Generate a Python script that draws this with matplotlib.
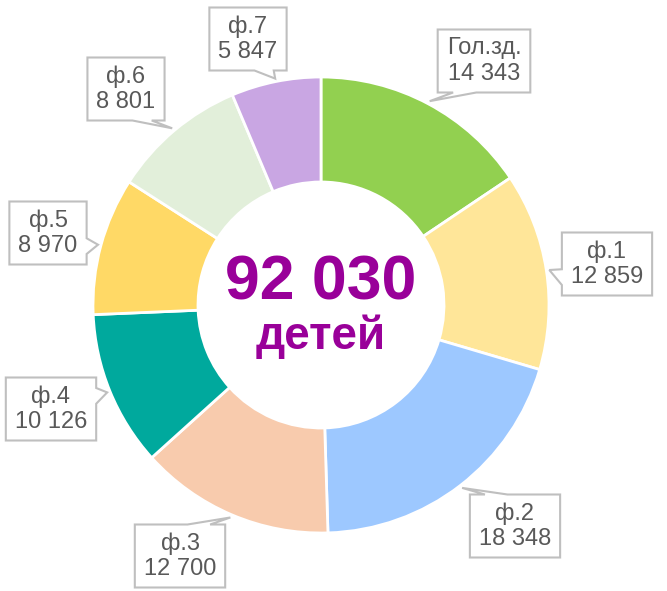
import numpy as np
import matplotlib
matplotlib.use("Agg")
from matplotlib import pyplot as plt
from matplotlib.patches import Polygon

plt.rcParams['font.family'] = ['Liberation Sans', 'DejaVu Sans']

# data
names = ['Гол.зд.', 'ф.1', 'ф.2', 'ф.3', 'ф.4', 'ф.5', 'ф.6', 'ф.7']
values = [14343, 12859, 18348, 12700, 10126, 8970, 8801, 5847]
colors = ['#92D050', '#FFE699', '#9DC8FF', '#F8CBAD', '#00A99D', '#FFD966', '#E2EFDA', '#C9A6E3']
total_text = '92 030'
sub_text = 'детей'

W, H = 667, 591
# label box centres in pixels from the top-left corner (layout only)
box_pos = [(484, 61), (607, 264), (515, 526), (180, 556),
           (51, 409), (48, 233), (126, 89), (248, 39)]

fig = plt.figure(figsize=(W / 100, H / 100), dpi=100)
ax = fig.add_axes([0, 0, 1, 1])

cx, cy = 321, 286
R = 228
wedges, _ = ax.pie(values, colors=colors, startangle=90, counterclock=False,
                   radius=R, center=(cx, cy),
                   wedgeprops=dict(width=105, edgecolor='white', linewidth=2))
ax.set_xlim(0, W)
ax.set_ylim(0, H)
ax.set_aspect('equal')
ax.axis('off')

ax.text(cx, H - 283, total_text, ha='center', va='center', fontsize=45,
        fontweight='bold', color='#990099')
ax.text(cx, H - 337, sub_text, ha='center', va='center', fontsize=33,
        fontweight='bold', color='#990099')

labels = []
for w, n, v, (px, py) in zip(wedges, names, values, box_pos):
    a = np.deg2rad((w.theta1 + w.theta2) / 2)
    tip = (cx + (R + 3) * np.cos(a), cy + (R + 3) * np.sin(a))
    s = f"{n}\n{v:,}".replace(',', ' ')
    t = ax.text(px, H - py, s, ha='center', va='center', fontsize=17,
                color='#595959', zorder=5, linespacing=1.2)
    labels.append((t, px, H - py, tip))

fig.canvas.draw()
inv = ax.transData.inverted()
for t, mx, my, (tx, ty) in labels:
    bb = t.get_window_extent()
    (l, b), (r, tp) = inv.transform([[bb.x0, bb.y0], [bb.x1, bb.y1]])
    w = (r - l) + 18
    h = 63
    l, r = mx - w / 2, mx + w / 2
    b, tp = my - h / 2, my + h / 2
    dx, dy = tx - mx, ty - my
    pts = [(l, tp)]
    side_lr = abs(dx) / w > abs(dy) / h
    if not side_lr and dy > 0:
        xa, xb = (l + 2 * w / 12, l + 5 * w / 12) if dx < 0 else (l + 7 * w / 12, l + 10 * w / 12)
        pts += [(xa, tp), (tx, ty), (xb, tp)]
    pts.append((r, tp))
    if side_lr and dx > 0:
        ya, yb = (tp - 2 * h / 12, tp - 5 * h / 12) if dy > 0 else (tp - 7 * h / 12, tp - 10 * h / 12)
        pts += [(r, ya), (tx, ty), (r, yb)]
    pts.append((r, b))
    if not side_lr and dy <= 0:
        xa, xb = (l + 5 * w / 12, l + 2 * w / 12) if dx < 0 else (l + 10 * w / 12, l + 7 * w / 12)
        pts += [(xa, b), (tx, ty), (xb, b)]
    pts.append((l, b))
    if side_lr and dx <= 0:
        ya, yb = (tp - 5 * h / 12, tp - 2 * h / 12) if dy > 0 else (tp - 10 * h / 12, tp - 7 * h / 12)
        pts += [(l, ya), (tx, ty), (l, yb)]
    ax.add_patch(Polygon(pts, closed=True, facecolor='white', edgecolor='#BFBFBF',
                         linewidth=1.5, zorder=4))

fig.savefig('out.png', dpi=100)
